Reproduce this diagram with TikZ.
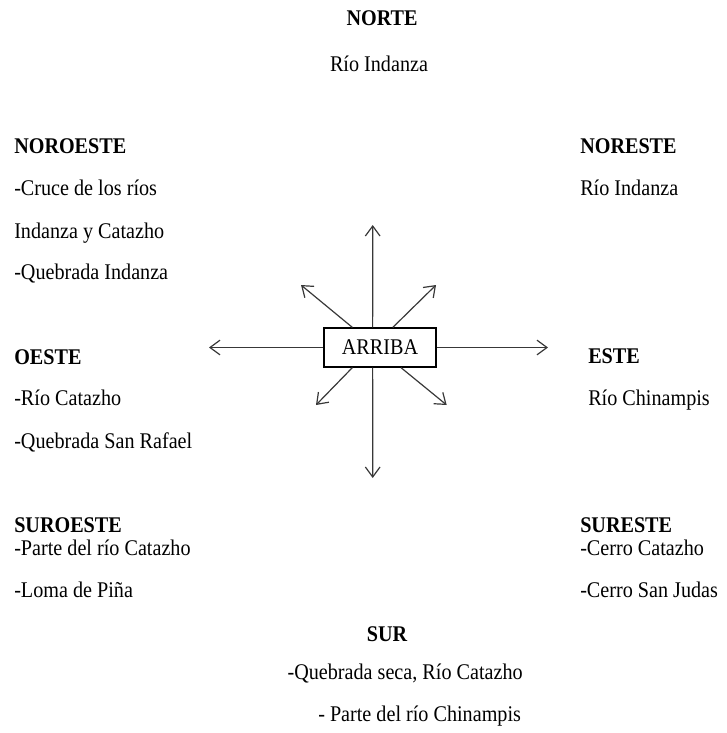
\documentclass[tikz,border=0pt]{standalone}
\usepackage{fontspec}
\setmainfont[FakeStretch=0.9]{Liberation Serif}
\usetikzlibrary{arrows.meta,calc}
\begin{document}
\begin{tikzpicture}[x=0.75pt,y=-0.75pt,
  lbl/.style={anchor=base west,inner sep=0pt,font=\fontsize{16.8pt}{19pt}\selectfont},
  ttl/.style={lbl,font=\fontsize{16.8pt}{19pt}\selectfont\bfseries},
  ctl/.style={anchor=base,inner sep=0pt,font=\fontsize{16.8pt}{19pt}\selectfont},
  cttl/.style={ctl,font=\fontsize{16.8pt}{19pt}\selectfont\bfseries},
  centerbox/.style={draw=black,line width=0.9pt,minimum width=84pt,minimum height=29.25pt,inner sep=0pt,font=\fontsize{16.8pt}{19pt}\selectfont},
  ray/.style={draw=black!78,line width=0.9pt,-{Straight Barb[length=7.5pt,width=11pt]}}]
\useasboundingbox (0,0) rectangle (727,733);

% center box
\node[centerbox] (box) at (380,347.5) {ARRIBA};

% tips
\coordinate (tN) at (372.7,225);
\coordinate (tS) at (372.7,478);
\coordinate (tW) at (209,347.5);
\coordinate (tE) at (548,347.5);
\coordinate (tNW) at (301,285);
\coordinate (tNE) at (436,285);
\coordinate (tSW) at (316,405);
\coordinate (tSE) at (446.7,405);

\draw[ray] ($(box.north west)!0.435!(box.north east)$) -- (tN);
\draw[ray] ($(box.south west)!0.435!(box.south east)$) -- (tS);
\draw[ray] (box.west) -- (tW);
\draw[ray] (box.east) -- (tE);
\draw[ray] ($(box.north west)!0.256!(box.north east)$) -- (tNW);
\draw[ray] ($(box.north west)!0.613!(box.north east)$) -- (tNE);
\draw[ray] ($(box.south west)!0.256!(box.south east)$) -- (tSW);
\draw[ray] ($(box.south west)!0.685!(box.south east)$) -- (tSE);

% NORTE
\node[cttl] (norte) at (382,25) {NORTE};
\node[ctl] (norte1) at (379,71) {Río Indanza};

% NOROESTE
\node[ttl] (no) at (14,153.3) {NOROESTE};
\node[lbl] (no1) at (14,195) {-Cruce de los ríos};
\node[lbl] (no2) at (14,238.3) {Indanza y Catazho};
\node[lbl] (no3) at (14,279) {-Quebrada Indanza};

% NORESTE
\node[ttl] (ne) at (580,153.3) {NORESTE};
\node[lbl] (ne1) at (580,195) {Río Indanza};

% OESTE
\node[ttl] (o) at (14,364) {OESTE};
\node[lbl] (o1) at (14,405) {-Río Catazho};
\node[lbl] (o2) at (14,448) {-Quebrada San Rafael};

% ESTE
\node[ttl] (e) at (588,363.5) {ESTE};
\node[lbl] (e1) at (588,405) {Río Chinampis};

% SUROESTE
\node[ttl] (so) at (14,532.3) {SUROESTE};
\node[lbl] (so1) at (14,555) {-Parte del río Catazho};
\node[lbl] (so2) at (14,597.7) {-Loma de Piña};

% SURESTE
\node[ttl] (se) at (580,532.3) {SURESTE};
\node[lbl] (se1) at (580,555) {-Cerro Catazho};
\node[lbl] (se2) at (580,597.7) {-Cerro San Judas};

% SUR
\node[cttl] (sur) at (387,641) {SUR};
\node[lbl] (sur1) at (287.3,679.3) {-Quebrada seca, Río Catazho};
\node[lbl] (sur2) at (318,721.7) {- Parte del río Chinampis};
\end{tikzpicture}
\end{document}
